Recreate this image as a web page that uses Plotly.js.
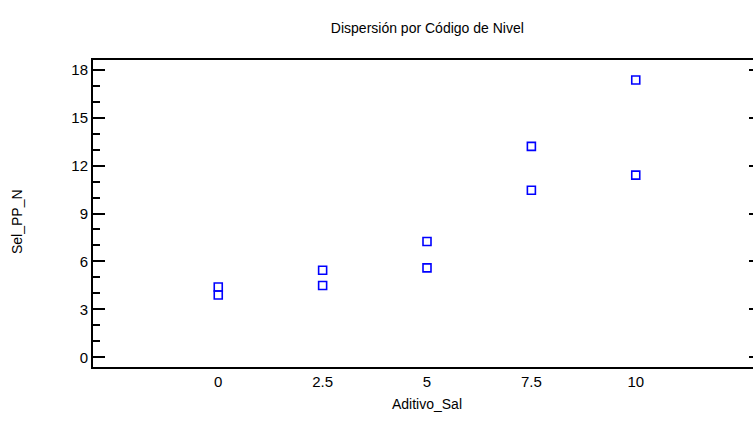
<!DOCTYPE html>
<html>
<head>
<meta charset="utf-8">
<script src="https://cdn.plot.ly/plotly-3.0.1.min.js"></script>
<style>
html,body{margin:0;padding:0;overflow:hidden;background:#fff;}
#chart{width:770px;height:427px;}
</style>
</head>
<body>
<div id="chart"></div>
<script>
// Data
const aditivoSal = [0, 0, 2.5, 2.5, 5, 5, 7.5, 7.5, 10, 10];
const selPPN = [4.4, 3.9, 5.45, 4.5, 7.25, 5.6, 13.2, 10.45, 17.35, 11.4];
const xTickVals = [0, 2.5, 5, 7.5, 10];
const xTickText = ['0', '2.5', '5', '7.5', '10'];
const yTickVals = [0, 3, 6, 9, 12, 15, 18];

const fam = '"Liberation Sans", Arial, sans-serif';

const trace = {
  x: aditivoSal,
  y: selPPN,
  type: 'scatter',
  mode: 'markers',
  marker: {symbol: 'square-open', size: 8, color: '#0000FF', line: {color: '#0000FF', width: 1.6}},
  hoverinfo: 'x+y'
};

const layout = {
  width: 770,
  height: 427,
  margin: {l: 93, r: 9, t: 60, b: 60},
  paper_bgcolor: '#ffffff',
  plot_bgcolor: '#ffffff',
  font: {family: fam, color: '#000000'},
  showlegend: false,
  title: {
    text: 'Dispersión por Código de Nivel',
    font: {family: fam, size: 14, color: '#000000'},
    x: 0.555, xanchor: 'center', y: 0.935, yanchor: 'middle'
  },
  xaxis: {
    range: [-3, 13],
    tickvals: xTickVals,
    ticktext: xTickText,
    ticks: '',
    showgrid: false,
    zeroline: false,
    showline: true,
    linecolor: '#000',
    linewidth: 2,
    mirror: true,
    tickfont: {family: fam, size: 15, color: '#000000'},
    title: {text: 'Aditivo_Sal', font: {family: fam, size: 14, color: '#000000'}, standoff: 10}
  },
  yaxis: {
    range: [-0.6, 18.6],
    tickvals: yTickVals,
    ticks: 'inside',
    ticklen: 12,
    tickwidth: 2,
    tickcolor: '#000',
    minor: {dtick: 1, ticks: 'inside', ticklen: 7, tickwidth: 2, tickcolor: '#000', showgrid: false},
    showgrid: false,
    zeroline: false,
    showline: true,
    linecolor: '#000',
    linewidth: 2,
    mirror: 'ticks',
    tickfont: {family: fam, size: 15, color: '#000000'}
  },
  annotations: [{
    text: 'Sel_PP_N',
    textangle: -90,
    xref: 'paper', yref: 'paper',
    x: -0.114, y: 0.475,
    xanchor: 'center', yanchor: 'middle',
    showarrow: false,
    font: {family: fam, size: 14, color: '#000000'}
  }]
};

Plotly.newPlot('chart', [trace], layout, {displayModeBar: false, staticPlot: true});
</script>
</body>
</html>
